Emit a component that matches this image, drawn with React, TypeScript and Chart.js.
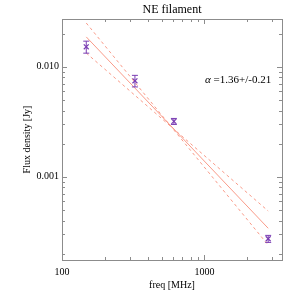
import React, { useEffect, useRef } from "react";
import { Chart, registerables } from "chart.js";

Chart.register(...registerables);

const freqs = [148, 325, 610, 2800];
const flux = [0.0152, 0.00746, 0.00319, 0.000273];
const fluxErr = [0.0019, 0.0009, 0.0002, 0.00002];
const fitX = [148, 2800];
const fitY = [0.0187, 0.00034];
const steepY = [0.025, 0.000239];
const shallowY = [0.01333, 0.000488];
const xTicks = [100, 200, 300, 400, 500, 600, 700, 800, 900, 1000, 2000, 3000];
const xLabels: Record<number, string> = { 100: "100", 1000: "1000" };
const yTicks = [
  0.0002, 0.0003, 0.0004, 0.0005, 0.0006, 0.0007, 0.0008, 0.0009, 0.001,
  0.002, 0.003, 0.004, 0.005, 0.006, 0.007, 0.008, 0.009, 0.01, 0.02,
];
const yLabels: Record<string, string> = { "0.001": "0.001", "0.01": "0.010" };
const titleText = "NE filament";
const xTitle = "freq [MHz]";
const yTitle = "Flux density [Jy]";
const alphaText = " =1.36+/-0.21";

const FONT = "'Liberation Serif', 'Times New Roman', serif";
const PURPLE = "#7a3db3";
const SALMON = "#f99a88";
const AXIS = "#8c8c8c";

const framePlugin = {
  id: "frameTicks",
  afterDatasetsDraw(chart: any) {
    const ctx = chart.ctx;
    const xs = chart.scales.x;
    const ys = chart.scales.y;
    ctx.save();
    ctx.strokeStyle = PURPLE;
    ctx.lineWidth = 1;
    freqs.forEach((f, i) => {
      const px = xs.getPixelForValue(f);
      const p1 = ys.getPixelForValue(flux[i] + fluxErr[i]);
      const p2 = ys.getPixelForValue(flux[i] - fluxErr[i]);
      ctx.beginPath();
      ctx.moveTo(px, p1);
      ctx.lineTo(px, p2);
      ctx.moveTo(px - 3, p1);
      ctx.lineTo(px + 3, p1);
      ctx.moveTo(px - 3, p2);
      ctx.lineTo(px + 3, p2);
      ctx.stroke();
    });
    ctx.restore();
  },
  afterDraw(chart: any) {
    const ctx = chart.ctx;
    const { left, right, top, bottom } = chart.chartArea;
    const xs = chart.scales.x;
    const ys = chart.scales.y;
    ctx.save();
    ctx.strokeStyle = AXIS;
    ctx.lineWidth = 1;
    ctx.strokeRect(Math.round(left) + 0.5, Math.round(top) + 0.5, Math.round(right - left), Math.round(bottom - top));
    ctx.beginPath();
    xTicks.forEach((v) => {
      const px = Math.round(xs.getPixelForValue(v)) + 0.5;
      const len = xLabels[v] ? 5 : 3;
      ctx.moveTo(px, bottom);
      ctx.lineTo(px, bottom - len);
      ctx.moveTo(px, top);
      ctx.lineTo(px, top + len);
    });
    yTicks.forEach((v) => {
      const py = Math.round(ys.getPixelForValue(v)) + 0.5;
      const len = yLabels[String(v)] ? 5 : 3;
      ctx.moveTo(left, py);
      ctx.lineTo(left + len, py);
      ctx.moveTo(right, py);
      ctx.lineTo(right - len, py);
    });
    ctx.stroke();
    ctx.fillStyle = "#000";
    ctx.textBaseline = "alphabetic";
    ctx.textAlign = "left";
    ctx.font = "italic 11px " + FONT;
    const ax = left + 143;
    const ay = top + 64;
    ctx.fillText("α", ax, ay);
    const w = ctx.measureText("α").width;
    ctx.font = "11px " + FONT;
    ctx.fillText(alphaText, ax + w, ay);
    ctx.restore();
  },
};

export default function App() {
  const ref = useRef<HTMLCanvasElement>(null);
  useEffect(() => {
    const canvas = ref.current;
    if (!canvas) return;
    const chart = new Chart(canvas, {
      type: "scatter",
      data: {
        datasets: [
          {
            type: "line",
            data: fitX.map((f, i) => ({ x: f, y: fitY[i] })),
            borderColor: SALMON,
            borderWidth: 1,
            pointRadius: 0,
            showLine: true,
          },
          {
            type: "line",
            data: fitX.map((f, i) => ({ x: f, y: steepY[i] })),
            borderColor: SALMON,
            borderWidth: 1,
            borderDash: [3, 3],
            pointRadius: 0,
            showLine: true,
          },
          {
            type: "line",
            data: fitX.map((f, i) => ({ x: f, y: shallowY[i] })),
            borderColor: SALMON,
            borderWidth: 1,
            borderDash: [3, 3],
            pointRadius: 0,
            showLine: true,
          },
          {
            type: "scatter",
            data: freqs.map((f, i) => ({ x: f, y: flux[i] })),
            pointStyle: "crossRot",
            pointRadius: 3.5,
            borderColor: PURPLE,
            backgroundColor: PURPLE,
            borderWidth: 1.2,
          } as any,
        ],
      },
      options: {
        responsive: false,
        animation: false,
        layout: { padding: { left: 0, right: 18, top: 0, bottom: 0 } },
        plugins: {
          legend: { display: false },
          tooltip: { enabled: false },
          title: {
            display: true,
            text: titleText,
            fullSize: false,
            color: "#000",
            font: { family: FONT, size: 12, weight: "normal" },
            padding: { top: 3, bottom: 1.6 },
          },
        },
        scales: {
          x: {
            type: "logarithmic",
            min: 100,
            max: 3500,
            grid: { display: false, drawTicks: false },
            border: { display: false },
            afterBuildTicks: (s: any) => {
              s.ticks = xTicks.map((v) => ({ value: v }));
            },
            afterFit: (s: any) => {
              s.height = 40;
            },
            ticks: {
              autoSkip: false,
              maxRotation: 0,
              padding: 6,
              color: "#000",
              font: { family: FONT, size: 10 },
              callback: (v: any) => xLabels[Number(v)] || "",
            },
            title: {
              display: true,
              text: xTitle,
              color: "#000",
              font: { family: FONT, size: 10 },
              padding: { top: 0, bottom: 9 },
            },
          },
          y: {
            type: "logarithmic",
            min: 0.000175,
            max: 0.0272,
            grid: { display: false, drawTicks: false },
            border: { display: false },
            afterBuildTicks: (s: any) => {
              s.ticks = yTicks.map((v) => ({ value: v }));
            },
            afterFit: (s: any) => {
              s.width = 62;
            },
            ticks: {
              autoSkip: false,
              padding: 3,
              color: "#000",
              font: { family: FONT, size: 10 },
              callback: (v: any) => yLabels[String(Number(v))] || "",
            },
            title: {
              display: true,
              text: yTitle,
              color: "#000",
              font: { family: FONT, size: 10 },
              padding: { top: 21, bottom: 0 },
            },
          },
        },
      },
      plugins: [framePlugin],
    } as any);
    return () => chart.destroy();
  }, []);
  return (
    <div style={{ position: "absolute", left: 0, top: 0, width: 300, height: 300, background: "#fff" }}>
      <canvas ref={ref} width={300} height={300} />
    </div>
  );
}
